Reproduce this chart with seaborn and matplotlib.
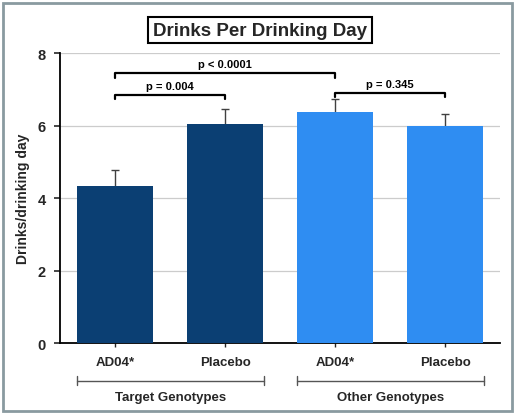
import matplotlib
matplotlib.use("Agg")
import matplotlib.pyplot as plt
import seaborn as sns
import pandas as pd
from matplotlib.patches import Rectangle

# data
bar_ids = ["Target AD04*", "Target Placebo", "Other AD04*", "Other Placebo"]
tick_labels = ["AD04*", "Placebo", "AD04*", "Placebo"]
means = [4.33, 6.04, 6.37, 5.99]
errors = [0.45, 0.42, 0.36, 0.33]
groups = ["Target Genotypes", "Target Genotypes", "Other Genotypes", "Other Genotypes"]
group_names = ["Target Genotypes", "Other Genotypes"]
colors = ["#0b3f73", "#0b3f73", "#2f8df2", "#2f8df2"]
comparisons = [(0, 1, 6.85, "p = 0.004"), (0, 2, 7.45, "p < 0.0001"), (2, 3, 6.9, "p = 0.345")]

sns.set_theme(style="white")
plt.rcParams["font.family"] = ["Liberation Sans", "DejaVu Sans"]

df = pd.DataFrame({"bar": bar_ids, "value": means, "group": groups})

fig = plt.figure(figsize=(5.15, 4.14), dpi=100)
ax = fig.add_axes([0.1165, 0.169, 0.855, 0.70])

sns.barplot(data=df, x="bar", y="value", hue="bar", palette=colors, dodge=False,
            width=0.69, legend=False, ax=ax, zorder=3, edgecolor="none", saturation=1)
ax.errorbar(range(len(means)), means, yerr=errors, fmt="none",
            ecolor="#404040", elinewidth=1.0, capsize=3, capthick=1.0, zorder=2)

ax.set_ylim(0, 8)
ax.set_xlim(-0.5, 3.5)
ax.set_yticks([0, 2, 4, 6, 8])
ax.set_yticklabels(["0", "2", "4", "6", "8"], fontsize=10.5, fontweight="bold")
ax.set_xticks(range(4))
ax.set_xticklabels(tick_labels, fontsize=9.5, fontweight="bold")
ax.set_xlabel("")
ax.set_ylabel("Drinks/drinking day", fontsize=10, fontweight="bold", labelpad=6)
ax.yaxis.grid(True, color="#cccccc", linewidth=0.9, zorder=0)
ax.set_axisbelow(True)
for s in ["top", "right"]:
    ax.spines[s].set_visible(False)
ax.spines["left"].set_color("black")
ax.spines["bottom"].set_color("black")
ax.spines["left"].set_linewidth(1.3)
ax.spines["bottom"].set_linewidth(1.3)
ax.tick_params(axis="y", left=True, length=4, width=1.2, direction="out", pad=6)
ax.tick_params(axis="x", bottom=True, length=3, width=1.0, direction="out", pad=6)

# significance brackets
for i, j, y, txt in comparisons:
    ax.plot([i, i, j, j], [y - 0.12, y, y, y - 0.12], color="black", lw=1.6,
            clip_on=False, zorder=5)
    ax.text((i + j) / 2, y + 0.12, txt, ha="center", va="bottom", fontsize=8,
            fontweight="bold", color="black")

# group labels beneath axis
trans = ax.get_xaxis_transform()
for g in group_names:
    idx = [k for k, gg in enumerate(groups) if gg == g]
    x0, x1 = min(idx) - 0.35, max(idx) + 0.35
    ax.plot([x0, x1], [-0.13, -0.13], transform=trans, color="#555555", lw=1.0,
            clip_on=False)
    ax.plot([x0, x0], [-0.145, -0.115], transform=trans, color="#555555", lw=1.0, clip_on=False)
    ax.plot([x1, x1], [-0.145, -0.115], transform=trans, color="#555555", lw=1.0, clip_on=False)
    ax.text((x0 + x1) / 2, -0.185, g, transform=trans, ha="center", va="center",
            fontsize=9.5, fontweight="bold")

# title in a box
fig.text(0.505, 0.925, "Drinks Per Drinking Day", ha="center", va="center", fontsize=13.5,
         fontweight="bold",
         bbox=dict(boxstyle="square,pad=0.25", facecolor="white", edgecolor="black", linewidth=1.5))

# outer frame
fig.patches.append(Rectangle((0.006, 0.006), 0.988, 0.985, transform=fig.transFigure,
                             fill=False, edgecolor="#8a9aa0", linewidth=2.0))

fig.savefig("out.png", dpi=100)
